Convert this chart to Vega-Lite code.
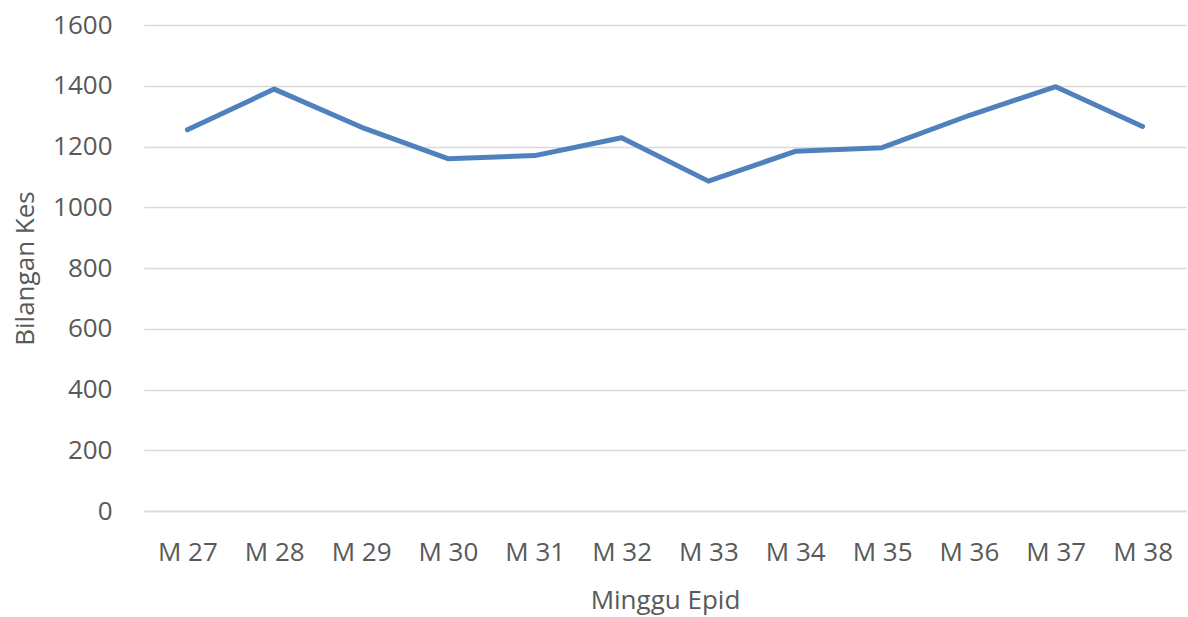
{
  "$schema": "https://vega.github.io/schema/vega-lite/v6.json",
  "autosize": {"type": "none"},
  "width": 1042,
  "height": 486,
  "padding": {"left": 144, "top": 25, "right": 2, "bottom": 106},
  "background": "white",
  "config": {
    "view": {"stroke": null},
    "font": "Open Sans"
  },
  "data": {
    "values": [
      {"minggu": "M 27", "kes": 1255},
      {"minggu": "M 28", "kes": 1389},
      {"minggu": "M 29", "kes": 1264},
      {"minggu": "M 30", "kes": 1160},
      {"minggu": "M 31", "kes": 1170},
      {"minggu": "M 32", "kes": 1229},
      {"minggu": "M 33", "kes": 1086},
      {"minggu": "M 34", "kes": 1184},
      {"minggu": "M 35", "kes": 1196},
      {"minggu": "M 36", "kes": 1302},
      {"minggu": "M 37", "kes": 1397},
      {"minggu": "M 38", "kes": 1266}
    ]
  },
  "mark": {"type": "line", "color": "#4F81BD", "strokeWidth": 5, "strokeCap": "round", "strokeJoin": "round"},
  "encoding": {
    "x": {
      "field": "minggu",
      "type": "ordinal",
      "sort": null,
      "scale": {"type": "point", "padding": 0.5},
      "axis": {
        "title": "Minggu Epid",
        "labelAngle": 0,
        "labelFontSize": 26,
        "labelColor": "#595959",
        "labelPadding": 28,
        "titleFontSize": 26,
        "titleFontWeight": "normal",
        "titleColor": "#595959",
        "titlePadding": 22,
        "ticks": false,
        "domainColor": "#D9D9D9",
        "domainWidth": 1.5,
        "grid": false
      }
    },
    "y": {
      "field": "kes",
      "type": "quantitative",
      "scale": {"domain": [0, 1600]},
      "axis": {
        "title": "Bilangan Kes",
        "format": "d",
        "values": [0, 200, 400, 600, 800, 1000, 1200, 1400, 1600],
        "labelFontSize": 26,
        "labelColor": "#595959",
        "labelPadding": 32,
        "titleFontSize": 26,
        "titleFontWeight": "normal",
        "titleColor": "#595959",
        "titlePadding": 14,
        "ticks": false,
        "domain": false,
        "gridColor": "#D9D9D9",
        "gridWidth": 1.5
      }
    }
  }
}
